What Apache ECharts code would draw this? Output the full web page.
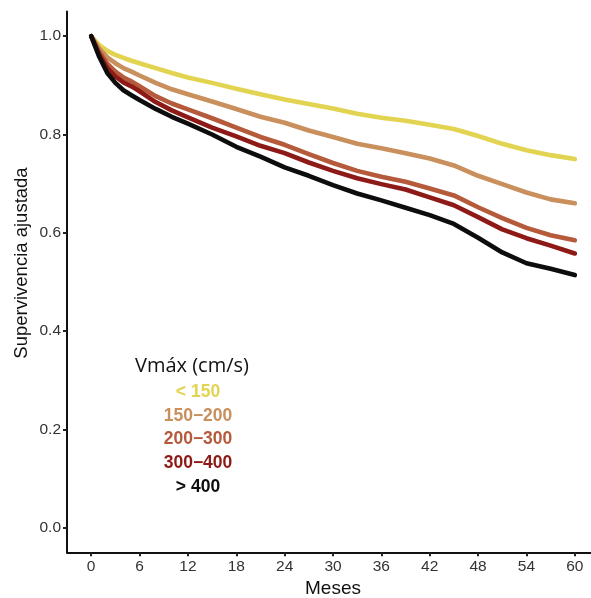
<!DOCTYPE html>
<html>
<head>
<meta charset="utf-8">
<script src="https://cdn.jsdelivr.net/npm/echarts@6/dist/echarts.min.js"></script>
<style>html,body{margin:0;padding:0;background:#fff}#c{width:591px;height:598px}</style>
</head>
<body>
<div id="c"></div>
<script>
const months = [0,1,2,3,4,5,6,8,10,12,15,18,21,24,27,30,33,36,39,42,45,48,51,54,57,60];
const seriesNames = ['< 150','150\u2212200','200\u2212300','300\u2212400','> 400'];
const v150 = [1.0,0.982,0.970,0.962,0.956,0.950,0.945,0.935,0.925,0.916,0.905,0.893,0.882,0.871,0.862,0.853,0.842,0.834,0.828,0.820,0.811,0.797,0.781,0.768,0.758,0.750];
const v200 = [1.0,0.975,0.957,0.945,0.935,0.928,0.920,0.905,0.892,0.882,0.867,0.852,0.836,0.824,0.808,0.795,0.781,0.772,0.762,0.751,0.737,0.716,0.699,0.682,0.668,0.660];
const v300 = [1.0,0.968,0.944,0.928,0.916,0.908,0.898,0.878,0.863,0.851,0.833,0.814,0.795,0.779,0.760,0.742,0.726,0.714,0.704,0.690,0.676,0.652,0.630,0.610,0.595,0.585];
const v400 = [1.0,0.963,0.935,0.918,0.906,0.898,0.888,0.866,0.849,0.835,0.814,0.796,0.777,0.762,0.743,0.726,0.711,0.699,0.688,0.672,0.656,0.632,0.607,0.589,0.574,0.558];
const vOver = [1.0,0.958,0.925,0.905,0.890,0.880,0.870,0.852,0.836,0.822,0.800,0.775,0.755,0.733,0.716,0.697,0.680,0.666,0.651,0.636,0.618,0.590,0.560,0.538,0.527,0.514];
const xTicks = [0,6,12,18,24,30,36,42,48,54,60];
const yTicks = [0,0.2,0.4,0.6,0.8,1.0];
const legendTitle = 'Vmáx (cm/s)';
const yName = 'Supervivencia ajustada';
const xName = 'Meses';
const colors = ['#E2D450','#C98F5C','#B55A3B','#8E1A17','#0d0d0d'];
const allValues = [v150, v200, v300, v400, vOver];

const chart = echarts.init(document.getElementById('c'));
const series = allValues.map((vals, i) => ({
  name: seriesNames[i],
  type: 'line',
  data: months.map((m, j) => [m, vals[j]]),
  showSymbol: false,
  symbol: 'none',
  clip: false,
  lineStyle: { color: colors[i], width: 4.6, cap: 'round', join: 'round' },
  itemStyle: { color: colors[i] },
  z: 2 + i
}));

const sansFont = '"Liberation Sans", Arial, sans-serif';
const graphics = [{
  type: 'text', x: 135, y: 366,
  style: { text: legendTitle, font: '20px "Open Sans", sans-serif', fill: '#111', verticalAlign: 'middle' }
}, {
  type: 'text', x: 22, y: 263, rotation: Math.PI / 2,
  style: { text: yName, font: '18.5px ' + sansFont, fill: '#111', align: 'center', verticalAlign: 'middle' }
}].concat(seriesNames.map((n, i) => ({
  type: 'text', x: 198, y: 392 + i * 23.8,
  style: { text: n, font: 'bold 17.5px ' + sansFont, fill: colors[i], align: 'center', verticalAlign: 'middle' }
})));

chart.setOption({
  animation: false,
  grid: { left: 67, top: 11.6, width: 532, height: 540.7, containLabel: false, outerBoundsMode: 'none' },
  xAxis: {
    type: 'value', min: -3, max: 63,
    name: xName, nameLocation: 'middle', nameGap: 27,
    nameTextStyle: { fontSize: 19, color: '#111', fontFamily: sansFont },
    axisLine: { show: true, onZero: false, lineStyle: { color: '#111', width: 2 } },
    axisTick: { show: true, customValues: xTicks, length: 4, lineStyle: { color: '#222', width: 2 } },
    axisLabel: { customValues: xTicks, fontSize: 15.5, color: '#333', margin: 6, fontFamily: sansFont },
    splitLine: { show: false }
  },
  yAxis: {
    type: 'value', min: -0.05, max: 1.05,
    axisLine: { show: true, onZero: false, lineStyle: { color: '#111', width: 2 } },
    axisTick: { show: true, customValues: yTicks, length: 4, lineStyle: { color: '#222', width: 2 } },
    axisLabel: { customValues: yTicks, fontSize: 15.5, color: '#333', margin: 6,
      formatter: v => v.toFixed(1), fontFamily: sansFont },
    splitLine: { show: false }
  },
  series: series,
  graphic: graphics
});
</script>
</body>
</html>
